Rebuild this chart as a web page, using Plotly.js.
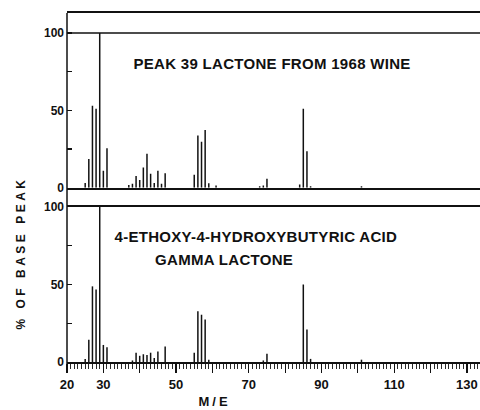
<!DOCTYPE html>
<html>
<head>
<meta charset="utf-8">
<script src="https://cdn.plot.ly/plotly-3.0.1.min.js"></script>
<style>
  html, body { margin: 0; padding: 0; background: #fff; }
  #chart { width: 480px; height: 410px; }
</style>
</head>
<body>
<div id="chart"></div>
<script>
// ---- Data ----
// Upper spectrum: Peak 39 lactone from 1968 wine
const wineMass      = [25, 26, 27, 28, 29, 30, 31, 37, 38, 39, 40, 41, 42, 43, 44, 45, 46, 47, 55, 56, 57, 58, 59, 61, 73, 74, 75, 84, 85, 86, 87, 101];
const wineIntensity = [3, 18.5, 53, 51, 100, 11, 25.5, 1.7, 2.5, 7.5, 5, 13, 22, 9, 3, 11, 2.5, 9.3, 8.4, 33.8, 29.7, 37.3, 2.8, 1.5, 1, 1.5, 5.8, 2, 51, 23.5, 1, 1];

// Lower spectrum: 4-ethoxy-4-hydroxybutyric acid gamma lactone
const refMass      = [25, 26, 27, 28, 29, 30, 31, 38, 39, 40, 41, 42, 43, 44, 45, 47, 55, 56, 57, 58, 59, 74, 75, 85, 86, 87, 101];
const refIntensity = [2, 14.4, 48.8, 46.7, 100, 11, 9.5, 1, 6, 4, 5, 4.5, 6, 2.6, 6.8, 10, 6, 32.7, 30.5, 27.5, 1.5, 1, 5.4, 50, 21, 2, 1.5];

// Axis tick labels
const xTickVals  = [20, 30, 40, 50, 60, 70, 80, 90, 100, 110, 120, 130];
const xTickText  = ['20', '30', '', '50', '', '70', '', '90', '', '110', '', '130'];
const yTickVals  = [0, 25, 50, 75, 100];
const yTickText  = ['0', '', '50', '', '100'];

const title1 = 'PEAK 39 LACTONE FROM 1968 WINE';
const title2a = '4-ETHOXY-4-HYDROXYBUTYRIC ACID';
const title2b = 'GAMMA LACTONE';
const yTitle = '% OF BASE PEAK';
const xTitle = 'M/E';

// ---- Build stick traces ----
function sticks(mass, inten) {
  const xs = [], ys = [];
  for (let i = 0; i < mass.length; i++) {
    xs.push(mass[i], mass[i], null);
    ys.push(0, inten[i], null);
  }
  return { xs, ys };
}
const upperSticks = sticks(wineMass, wineIntensity);
const lowerSticks = sticks(refMass, refIntensity);

const lineStyle = { color: '#111', width: 1.5 };
const traces = [
  { type: 'scatter', mode: 'lines', x: upperSticks.xs, y: upperSticks.ys, xaxis: 'x2', yaxis: 'y', line: lineStyle, hoverinfo: 'skip', showlegend: false },
  { type: 'scatter', mode: 'lines', x: lowerSticks.xs, y: lowerSticks.ys, xaxis: 'x', yaxis: 'y2', line: lineStyle, hoverinfo: 'skip', showlegend: false }
];

const FONT = 'Liberation Sans, Arial, sans-serif';
const tickFontX = { family: FONT, size: 13, color: '#111', weight: 'bold' };
const tickFontY = { family: FONT, size: 12, color: '#111', weight: 'bold' };
const annFont   = { family: FONT, size: 15, color: '#111', weight: 'bold' };

const W = 480, H = 410, ml = 67, mr = 0, mt = 13, mb = 48;
const ph = H - mt - mb; // 349
function py(pix) { return (H - mb - pix) / ph; }
function px(pix) { return (pix - ml) / (W - ml - mr); }

const yCommon = {
  tickmode: 'array', tickvals: yTickVals, ticktext: yTickText,
  ticks: 'inside', ticklen: 5, tickwidth: 1.2, tickcolor: '#111',
  tickfont: tickFontY, showline: false, showgrid: false, zeroline: false,
  ticklabelstandoff: 2
};

const layout = {
  width: W, height: H,
  margin: { l: ml, r: mr, t: mt, b: mb, pad: 0 },
  paper_bgcolor: '#fff', plot_bgcolor: '#fff',
  showlegend: false,
  xaxis: {
    anchor: 'y2', domain: [0, 1], range: [20, 133.6],
    showline: true, linewidth: 2, linecolor: '#111', mirror: true,
    showgrid: false, zeroline: false,
    tickmode: 'array', tickvals: xTickVals, ticktext: xTickText,
    ticks: 'outside', ticklen: 9, tickwidth: 1.2, tickcolor: '#111',
    tickfont: tickFontX, ticklabelstandoff: 0,
    minor: { dtick: 1, tick0: 20, ticks: 'outside', ticklen: 5, tickwidth: 0.9, tickcolor: '#111', showgrid: false }
  },
  xaxis2: {
    anchor: 'y', matches: 'x', domain: [0, 1],
    showline: true, linewidth: 2, linecolor: '#111', mirror: true,
    showgrid: false, zeroline: false, ticks: '', showticklabels: false
  },
  yaxis: Object.assign({ domain: [py(187.7), 1], range: [0, 112.9] }, yCommon),
  yaxis2: Object.assign({ domain: [0, py(207)], range: [0, 100] }, yCommon),
  shapes: [
    { type: 'line', xref: 'paper', x0: 0, x1: 1, yref: 'y', y0: 100, y1: 100, line: { color: '#111', width: 1.6 } },
    { type: 'line', xref: 'paper', x0: 0, x1: 0, yref: 'paper', y0: -0.028, y1: 1, line: { color: '#111', width: 1.5 } }
  ],
  annotations: [
    { text: title1, xref: 'paper', yref: 'paper', x: px(136), y: py(63), xanchor: 'left', yanchor: 'middle', showarrow: false, font: annFont },
    { text: title2a, xref: 'paper', yref: 'paper', x: px(117), y: py(236.5), xanchor: 'left', yanchor: 'middle', showarrow: false, font: annFont },
    { text: title2b, xref: 'paper', yref: 'paper', x: px(155), y: py(259.5), xanchor: 'left', yanchor: 'middle', showarrow: false, font: annFont },
    { text: yTitle, xref: 'paper', yref: 'paper', x: px(21), y: py(253), xanchor: 'center', yanchor: 'middle', textangle: -90, showarrow: false,
      font: { family: FONT, size: 12, color: '#111', weight: 'bold' } },
    { text: xTitle, xref: 'paper', yref: 'paper', x: px(214), y: py(401), xanchor: 'center', yanchor: 'middle', showarrow: false,
      font: { family: FONT, size: 13, color: '#111', weight: 'bold' } }
  ]
};

Plotly.newPlot('chart', traces, layout, { staticPlot: true, displayModeBar: false }).then(function () {
  document.querySelectorAll('.annotation-text').forEach(function (el) {
    const t = el.textContent;
    if (t === yTitle) el.style.letterSpacing = '3.5px';
    else if (t === xTitle) el.style.letterSpacing = '3px';
    else el.style.letterSpacing = '0.3px';
  });
});
</script>
</body>
</html>
